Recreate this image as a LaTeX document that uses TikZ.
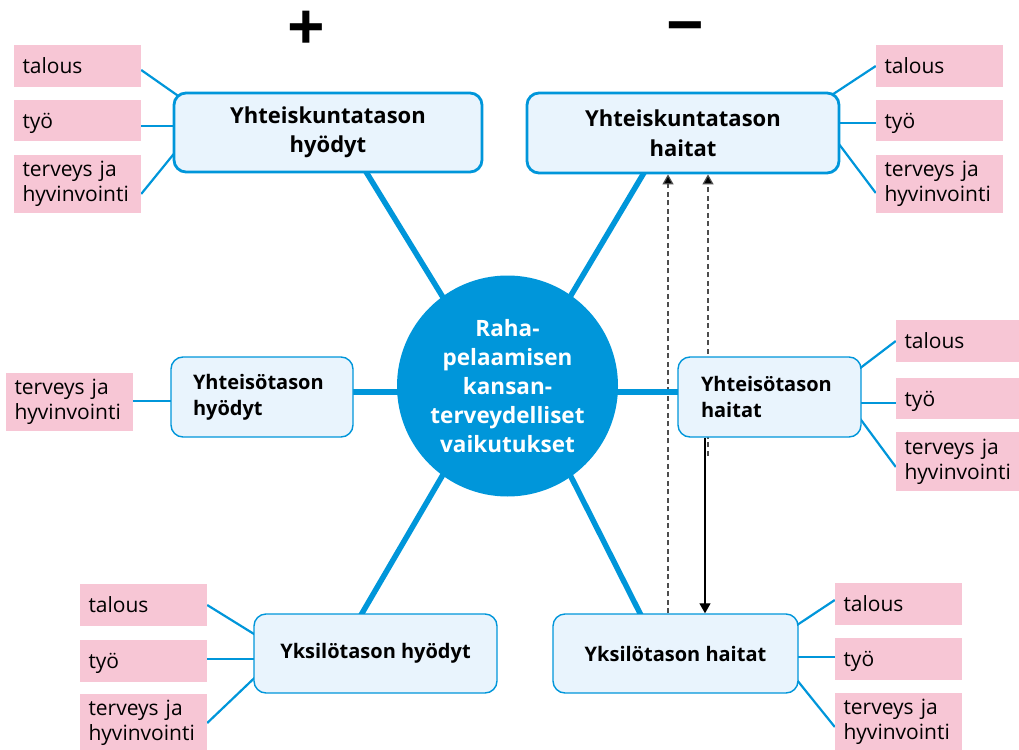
\documentclass[tikz,border=0pt]{standalone}
\usepackage{fontspec}
\setmainfont{Open Sans}
\usetikzlibrary{calc,arrows.meta}
\definecolor{cblue}{HTML}{0096DA}
\definecolor{cpink}{HTML}{F7C6D5}
\definecolor{cfill}{HTML}{E9F4FD}
\definecolor{cdash}{HTML}{4D4D4D}
\pgfdeclarelayer{arrowlayer}
\pgfdeclarelayer{spokelayer}
\pgfsetlayers{arrowlayer,spokelayer,main}
\begin{document}
\begin{tikzpicture}[x=1pt,y=-1pt,
  pinkbox/.style={fill=cpink, inner sep=0pt, minimum width=127pt, text width=110pt, align=left, font=\fontsize{21}{25}\selectfont},
  single/.style={text depth=0pt},
  bigbox/.style={draw=cblue, line width=2.8pt, fill=cfill, rounded corners=12pt, inner sep=0pt, align=center, font=\fontsize{22}{29.5}\selectfont\bfseries},
  midbox/.style={draw=cblue, line width=1.4pt, fill=cfill, rounded corners=12pt, inner sep=0pt, align=center, font=\fontsize{20}{26}\selectfont\bfseries},
  circ/.style={circle, fill=cblue, minimum size=221pt, inner sep=0pt, align=center, text=white, font=\fontsize{22.5}{29}\selectfont\bfseries},
  conn/.style={draw=cblue, line width=2.2pt},
  spoke/.style={draw=cblue, line width=5.5pt, shorten <=-12pt, shorten >=-10pt},
  dasharrow/.style={draw=cdash, line width=1.2pt, dash pattern=on 5pt off 3.5pt, -{Triangle[width=11pt,length=10pt,fill=black]}},
  solidarrow/.style={draw=black, line width=1.2pt, -{Triangle[width=11pt,length=10pt]}},
  sign/.style={font=\fontsize{66}{66}\selectfont\bfseries, inner sep=0pt}
]
\useasboundingbox (0,0) rectangle (1019,749);

\node[sign] (plus) at (306,31) {+};
\node[sign] (minus) at (685,35) {−};

\node[circ] (C) at (507.5,386) {Raha-\\pelaamisen\\kansan-\\terveydelliset\\vaikutukset};

\node[bigbox, minimum width=308pt, minimum height=79pt] (TLB) at (328,132.5) {Yhteiskuntatason\\hyödyt};
\node[bigbox, minimum width=312pt, minimum height=80pt] (TRB) at (683,133) {Yhteiskuntatason\\haitat};
\node[midbox, minimum width=182pt, minimum height=80pt, text width=138pt, align=left] (MLB) at (262,397) {Yhteisötason\\hyödyt};
\node[midbox, minimum width=183pt, minimum height=80pt, text width=137pt, align=left] (MRB) at (769.5,397) {Yhteisötason\\haitat};
\node[midbox, minimum width=243pt, minimum height=79pt] (BLB) at (375.5,653.5) {Yksilötason hyödyt};
\node[midbox, minimum width=245pt, minimum height=79pt] (BRB) at (675.5,653.5) {Yksilötason haitat};

% pink boxes
\node[pinkbox, single, minimum height=42pt] (tl1) at (77.5,66) {talous};
\node[pinkbox, single, minimum height=41pt] (tl2) at (77.5,120.5) {työ};
\node[pinkbox, minimum height=58pt] (tl3) at (77.5,184) {terveys ja\\hyvinvointi};
\node[pinkbox, single, minimum height=42pt] (tr1) at (939.5,66) {talous};
\node[pinkbox, single, minimum height=41pt] (tr2) at (939.5,120.5) {työ};
\node[pinkbox, minimum height=58pt] (tr3) at (939.5,184) {terveys ja\\hyvinvointi};
\node[pinkbox, minimum height=58pt] (ml1) at (69.5,402) {terveys ja\\hyvinvointi};
\node[pinkbox, single, minimum height=42pt] (mr1) at (959.5,341) {talous};
\node[pinkbox, single, minimum height=41pt] (mr2) at (959.5,398.5) {työ};
\node[pinkbox, minimum height=59pt] (mr3) at (959.5,461.5) {terveys ja\\hyvinvointi};
\node[pinkbox, single, minimum height=42pt] (bl1) at (143.5,605) {talous};
\node[pinkbox, single, minimum height=42pt] (bl2) at (143.5,661) {työ};
\node[pinkbox, minimum height=58pt] (bl3) at (143.5,723) {terveys ja\\hyvinvointi};
\node[pinkbox, single, minimum height=42pt] (br1) at (898.5,604) {talous};
\node[pinkbox, single, minimum height=42pt] (br2) at (898.5,659) {työ};
\node[pinkbox, minimum height=58pt] (br3) at (898.5,722) {terveys ja\\hyvinvointi};

\begin{pgfonlayer}{spokelayer}
  % spokes
  \draw[spoke] (C.126) -- ($(TLB.south)+(39,0)$);
  \draw[spoke] (C.55.5) -- ($(TRB.south)+(-40,0)$);
  \draw[spoke] (C.234) -- ($(BLB.north)+(-13.5,0)$);
  \draw[spoke] (C.305) -- ($(BRB.north)+(-35.5,0)$);
  \draw[spoke] ($(C.west)+(0,6)$) -- ($(MLB.east)+(0,-5)$);
  \draw[spoke] ($(C.east)+(0,6)$) -- ($(MRB.west)+(0,-5)$);
  % connectors
  \draw[conn] ($(tl1.east)+(0,4)$) -- ($(TLB.north west)+(8,6)$);
  \draw[conn] ($(tl2.east)+(0,5.5)$) -- ++(42,0);
  \draw[conn] ($(tl3.east)+(0,10)$) -- ($(TLB.west)+(6,15.5)$);
  \draw[conn] (tr1.west) -- ($(TRB.north east)+(-8,3)$);
  \draw[conn] ($(tr2.west)+(0,2.5)$) -- ++(-42,0);
  \draw[conn] ($(tr3.west)+(0,9)$) -- ($(TRB.east)+(-6,5)$);
  \draw[conn] ($(ml1.east)+(0,-1)$) -- ++(45,0);
  \draw[conn] (mr1.west) -- ($(MRB.east)+(-6,-25.5)$);
  \draw[conn] ($(mr2.west)+(0,4.5)$) -- ++(-42,0);
  \draw[conn] ($(mr3.west)+(0,5.5)$) -- ($(MRB.east)+(-6,15.7)$);
  \draw[conn] (bl1.east) -- ($(BLB.west)+(6,-16.2)$);
  \draw[conn] ($(bl2.east)+(0,-2)$) -- ++(52,0);
  \draw[conn] (bl3.east) -- ($(BLB.west)+(6,19.8)$);
  \draw[conn] ($(br1.west)+(0,-4)$) -- ($(BRB.east)+(-6,-25.6)$);
  \draw[conn] ($(br2.west)+(0,-2)$) -- ++(-43,0);
  \draw[conn] ($(br3.west)+(0,5)$) -- ($(BRB.east)+(-6,21.2)$);
\end{pgfonlayer}

\begin{pgfonlayer}{arrowlayer}
  \draw[dasharrow] ($(BRB.north)+(-7.5,0)$) -- ($(TRB.south)+(-15,0)$);
  \draw[dasharrow] ($(MRB.south)+(-61.5,18)$) -- ($(TRB.south)+(25,0)$);
  \draw[solidarrow] ($(MRB.south)+(-64.5,0)$) -- ($(BRB.north)+(29.5,0)$);
\end{pgfonlayer}
\end{tikzpicture}
\end{document}
